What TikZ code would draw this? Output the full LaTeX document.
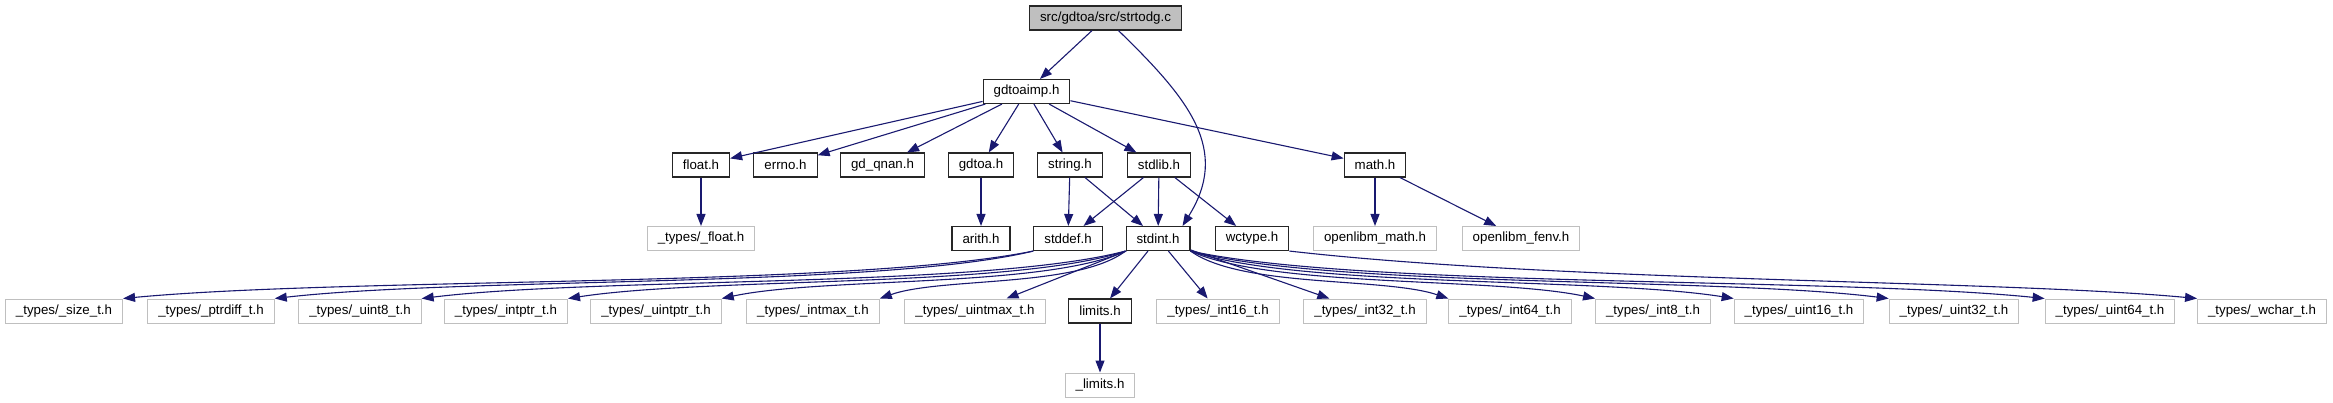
\documentclass[tikz,border=0pt]{standalone}
\usepackage{fontspec}
\setmainfont{Liberation Sans}
\usepackage{xcolor}
\usepackage{tikz}
\usetikzlibrary{arrows.meta, positioning}

\definecolor{edgeblue}{HTML}{191970}
\definecolor{rootgrey}{HTML}{BFBFBF}
\definecolor{extgrey}{HTML}{BFBFBF}

\begin{document}
\begin{tikzpicture}[x=1pt, y=-1pt, font=\fontsize{13.3}{15}\selectfont]
\tikzstyle{block} = [rectangle, draw=black!85, fill=white, line width=1.1pt, inner xsep=10.5pt, minimum height=24pt]
\tikzstyle{extblock} = [block, draw=extgrey, line width=1pt]
\tikzstyle{line} = [draw=edgeblue, line width=1.1pt, -{Triangle[length=12pt,width=9pt]}]
\useasboundingbox (0,0) rectangle (2333,403);
% top two levels
\node [block, fill=rootgrey] (root) at (1105.5,18) {src/gdtoa/src/strtodg.c};
\node [block] (gdtoaimp) at (1026.5,91.5) {gdtoaimp.h};
% headers pulled in by gdtoaimp.h
\node [block] (float) at (701,165) {float.h};
\node [block] (errno) at (785.5,165) {errno.h};
\node [block] (gdqnan) at (882.5,165) {gd\_qnan.h};
\node [block] (gdtoa) at (981,165) {gdtoa.h};
\node [block] (string) at (1070,165) {string.h};
\node [block] (stdlib) at (1159,165) {stdlib.h};
\node [block] (math) at (1375,165) {math.h};
% third level
\node [extblock] (tfloat) at (701,238.5) {\_types/\_float.h};
\node [block] (arith) at (981,238.5) {arith.h};
\node [block] (stddef) at (1068,238.5) {stddef.h};
\node [block] (stdint) at (1158,238.5) {stdint.h};
\node [block] (wctype) at (1252,238.5) {wctype.h};
\node [extblock] (olmath) at (1375,238.5) {openlibm\_math.h};
\node [extblock] (olfenv) at (1521,238.5) {openlibm\_fenv.h};
% type headers
\node [extblock] (sizet) at (64,311) {\_types/\_size\_t.h};
\node [extblock] (ptrdifft) at (211,311) {\_types/\_ptrdiff\_t.h};
\node [extblock] (uinteight) at (360,311) {\_types/\_uint8\_t.h};
\node [extblock] (intptrt) at (506,311) {\_types/\_intptr\_t.h};
\node [extblock] (uintptrt) at (656,311) {\_types/\_uintptr\_t.h};
\node [extblock] (intmaxt) at (813,311) {\_types/\_intmax\_t.h};
\node [extblock] (uintmaxt) at (975,311) {\_types/\_uintmax\_t.h};
\node [block] (limits) at (1100,311) {limits.h};
\node [extblock] (intsixteen) at (1218,311) {\_types/\_int16\_t.h};
\node [extblock] (intthirtytwo) at (1365,311) {\_types/\_int32\_t.h};
\node [extblock] (intsixtyfour) at (1510,311) {\_types/\_int64\_t.h};
\node [extblock] (inteight) at (1653,311) {\_types/\_int8\_t.h};
\node [extblock] (uintsixteen) at (1799,311) {\_types/\_uint16\_t.h};
\node [extblock] (uintthirtytwo) at (1954,311) {\_types/\_uint32\_t.h};
\node [extblock] (uintsixtyfour) at (2110,311) {\_types/\_uint64\_t.h};
\node [extblock] (wchart) at (2262,311) {\_types/\_wchar\_t.h};
\node [extblock] (ulimits) at (1100,385) {\_limits.h};
% edges
\path [line] (root) -- (gdtoaimp);
\path [line] (root) .. controls (1190,100) and (1230,150) .. ([xshift=-8pt]stdint.north east);
\path [line] (gdtoaimp) -- (float);
\path [line] (gdtoaimp) -- (errno);
\path [line] (gdtoaimp) -- (gdqnan);
\path [line] (gdtoaimp) -- (gdtoa);
\path [line] (gdtoaimp) -- (string);
\path [line] (gdtoaimp) -- (stdlib);
\path [line] (gdtoaimp) -- (math);
\path [line] (float) -- (tfloat);
\path [line] (gdtoa) -- (arith);
\path [line] (string) -- (stddef);
\path [line] (string) -- (stdint);
\path [line] (stdlib) -- (stddef);
\path [line] (stdlib) -- (stdint);
\path [line] (stdlib) -- (wctype);
\path [line] (math) -- (olmath);
\path [line] (math) -- (olfenv);
\path [line] (stddef.south west) .. controls (851,288) and (351,277) .. (sizet.north east);
\path [line] (stddef.south west) .. controls (881,288) and (464,277) .. (ptrdifft.north east);
\path [line] (stdint.south west) .. controls (985,288) and (597,277) .. (uinteight.north east);
\path [line] (stdint.south west) .. controls (1014,288) and (708,277) .. (intptrt.north east);
\path [line] (stdint.south west) .. controls (1045,288) and (822,277) .. (uintptrt.north east);
\path [line] (stdint.south west) .. controls (1077,288) and (941,277) .. (intmaxt.north east);
\path [line] (stdint) -- (uintmaxt);
\path [line] (stdint) -- (limits);
\path [line] (stdint) -- (intsixteen);
\path [line] (stdint) -- (intthirtytwo);
\path [line] (stdint.south east) .. controls (1242,288) and (1384,277) .. (intsixtyfour.north west);
\path [line] (stdint.south east) .. controls (1271,288) and (1494,277) .. (inteight.north west);
\path [line] (stdint.south east) .. controls (1299,288) and (1598,277) .. (uintsixteen.north west);
\path [line] (stdint.south east) .. controls (1330,288) and (1714,277) .. (uintthirtytwo.north west);
\path [line] (stdint.south east) .. controls (1361,288) and (1831,277) .. (uintsixtyfour.north west);
\path [line] (wctype.south east) .. controls (1560,282) and (2000,280) .. (wchart.north west);
\path [line] (limits) -- (ulimits);
\end{tikzpicture}
\end{document}
